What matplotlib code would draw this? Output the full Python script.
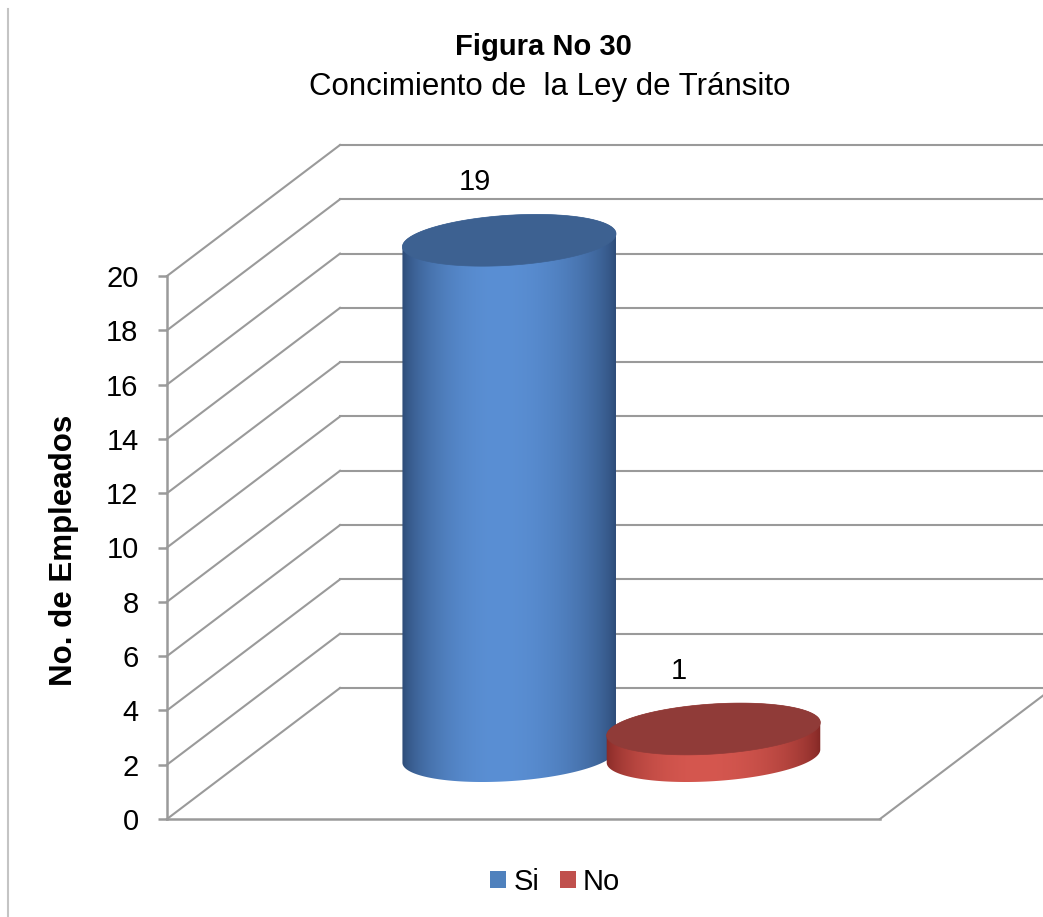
import numpy as np
import matplotlib
matplotlib.use("Agg")
import matplotlib.pyplot as plt
from matplotlib.patches import Polygon, Patch
from matplotlib.lines import Line2D
from matplotlib.colors import to_rgb

plt.rcParams['font.family'] = ['Liberation Sans', 'DejaVu Sans']

# datos
categorias = ["Si", "No"]
valores = [19, 1]
y_ticks = list(range(0, 21, 2))
titulo = "Figura No 30"
subtitulo = "Concimiento de  la Ley de Tránsito"
eje_y = "No. de Empleados"

# colores: (borde oscuro, centro claro, tapa)
colores = {
    "Si": ("#253f66", "#5a8fd4", "#3d6191"),
    "No": ("#78211f", "#d5574f", "#903b38"),
}
leyenda_col = {"Si": "#4f81bd", "No": "#c0504d"}
gris = "#9a9a9a"

W, H = 1043, 917
fig = plt.figure(figsize=(W / 100, H / 100), dpi=100)
ax = fig.add_axes([167 / W, 98 / H, 713 / W, 543 / H])
ax.set_xlim(0, 2)
ax.set_ylim(0, 20)
ax.patch.set_visible(False)

# pixeles por unidad
pxx = 713 / 2
pxy = 543 / 20
ddx = 173 / pxx   # profundidad en x
ddy = 131 / pxy   # profundidad en y

# ejes frontales
for s in ["top", "right"]:
    ax.spines[s].set_visible(False)
for s in ["left", "bottom"]:
    ax.spines[s].set_color(gris)
    ax.spines[s].set_linewidth(1.8)
ax.set_xticks([])
ax.set_yticks(y_ticks)
ax.tick_params(axis="y", direction="out", length=6.5, width=1.8, color=gris,
               labelsize=21, pad=14)

# paredes y lineas de cuadricula
for v in y_ticks:
    ax.plot([0, ddx], [v, v + ddy], color=gris, lw=1.5, clip_on=False, zorder=1)
    ax.plot([ddx, 2 + ddx], [v + ddy, v + ddy], color=gris, lw=1.5,
            clip_on=False, zorder=1)
ax.plot([2, 2 + ddx], [0, ddy], color=gris, lw=1.5, clip_on=False, zorder=1)


def cilindro(xc, valor, cols, z):
    dark, light, top = [np.array(to_rgb(c)) for c in cols]
    depth = 0.48
    a, b, ang = 107, 25, np.radians(3.7)
    xcen = xc + depth * ddx
    base = depth * ddy
    t = np.linspace(0, 2 * np.pi, 241)
    ex, ey = a * np.cos(t), b * np.sin(t)
    rx = (ex * np.cos(ang) - ey * np.sin(ang)) / pxx
    ry = (ex * np.sin(ang) + ey * np.cos(ang)) / pxy
    bot = np.column_stack([xcen + rx, base + ry])
    tap = np.column_stack([xcen + rx, base + valor + ry])
    half = len(t) // 2
    cuerpo = np.vstack([bot[half:], tap[:half + 1]])
    poly = Polygon(cuerpo, closed=True, facecolor="none", edgecolor="none")
    ax.add_patch(poly)
    poly.set_clip_on(False)

    u = np.linspace(0, 1, 300)
    w = np.where(u < 0.45, u / 0.45 * 0.5, 0.5 + (u - 0.45) / 0.55 * 0.5)
    s = np.sin(np.pi * w) ** 0.55
    grad = dark[None, :] + (light - dark)[None, :] * s[:, None]
    img = grad[None, :, :]
    x0, x1 = xcen - (a + 2) / pxx, xcen + (a + 2) / pxx
    y0, y1 = base - (b + 12) / pxy, base + valor + (b + 12) / pxy
    im = ax.imshow(img, extent=[x0, x1, y0, y1], aspect="auto", zorder=z,
                   interpolation="bilinear")
    im.set_clip_path(poly)
    im.set_clip_box(fig.bbox)
    ax.add_patch(Polygon(tap, closed=True, facecolor=top, edgecolor=top,
                         lw=0.5, zorder=z + 0.1, clip_on=False))
    return xcen, base + valor


posiciones = [0.727 + i * 0.573 for i in range(len(valores))]
for i, (cat, val) in enumerate(zip(categorias, valores)):
    xt, yt = cilindro(posiciones[i], val, colores[cat], 3 + i)
    ax.annotate(str(val), (xt, yt), xytext=(-25, 42), textcoords="offset points",
                ha="center", va="center", fontsize=21, color="black",
                annotation_clip=False)

ax.set_xlim(0, 2)
ax.set_ylim(0, 20)

ax.set_ylabel(eje_y, fontsize=22.5, fontweight="bold")
ax.yaxis.set_label_coords(-0.124, 0.495)

fig.text(543 / W, 1 - 47 / H, titulo, ha="center", va="center",
         fontsize=21, fontweight="bold")
fig.text(550 / W, 1 - 87 / H, subtitulo, ha="center", va="center", fontsize=22.5)

handles = [Patch(facecolor=leyenda_col[c], edgecolor="none") for c in categorias]
fig.legend(handles, categorias, loc="center", bbox_to_anchor=(555 / W, 1 - 882 / H),
           ncol=2, frameon=False, fontsize=21, handlelength=0.55, handleheight=0.55,
           handletextpad=0.25, columnspacing=0.7)

fig.add_artist(Line2D([8 / W, 8 / W], [0, 1 - 9 / H], color="#c4c4c4", lw=1.5))

fig.savefig("out.png", dpi=100)
